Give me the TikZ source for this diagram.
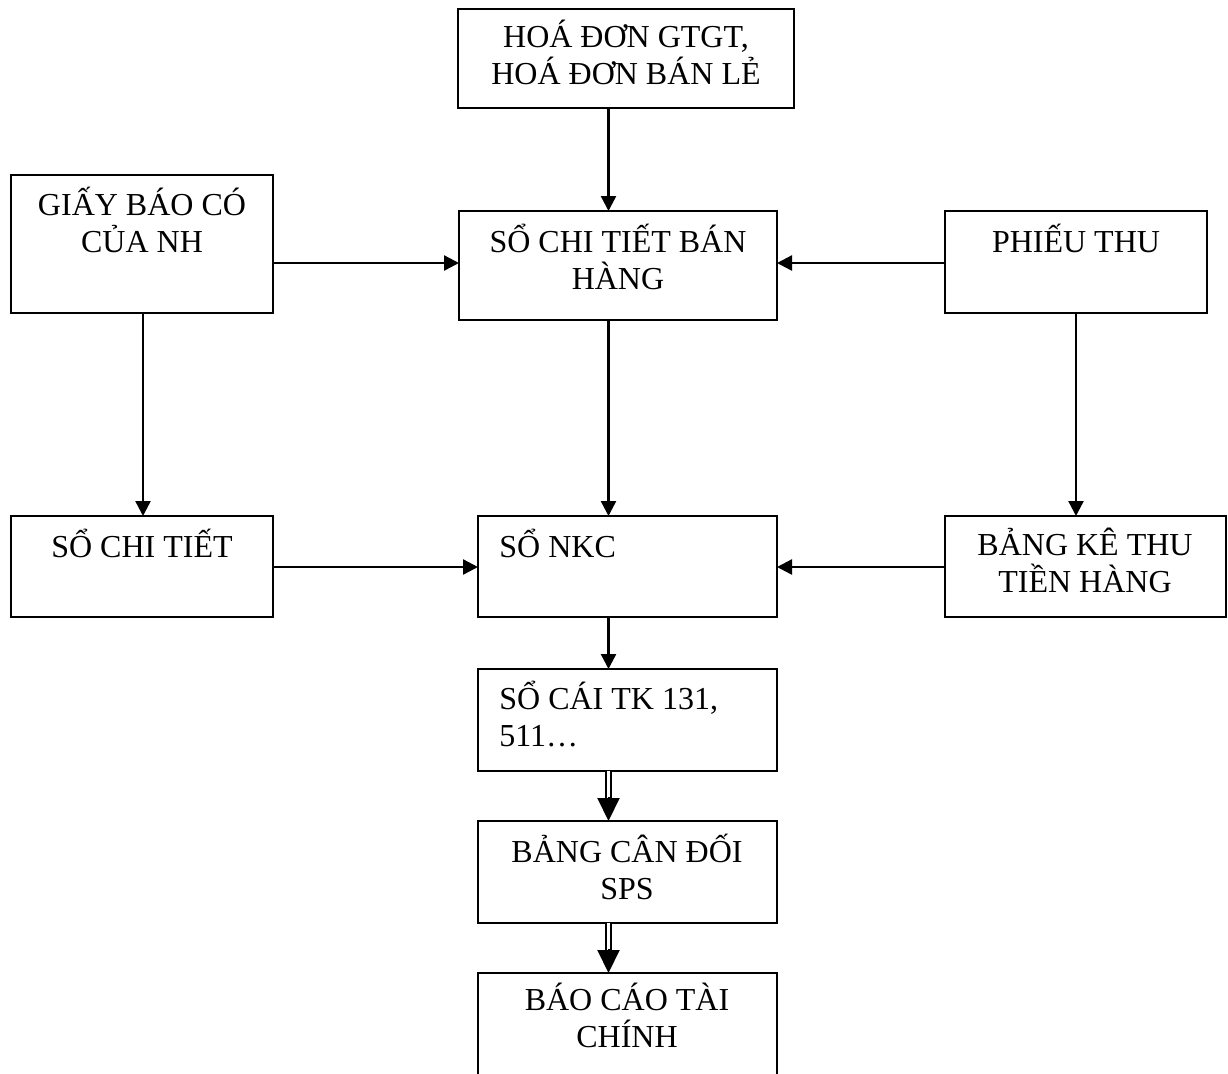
\documentclass[tikz,border=0pt]{standalone}
\usepackage{fontspec}
\setmainfont{Liberation Serif}
\usetikzlibrary{arrows.meta,calc}
% rectangular document box given by its corners (x1,y1) and (x2,y2)
\newcommand\docbox[5]{%
  \node[box, minimum width={(#4-#2)*0.5pt}, minimum height={(#5-#3)*0.5pt}]
    (#1) at ({(#2+#4)/2},{(#3+#5)/2}) {};}
\begin{document}
\begin{tikzpicture}[x=0.5pt,y=-0.5pt,
  box/.style={draw, line width=1.2pt, inner sep=0pt, outer sep=0pt},
  txt/.style={inner sep=0pt, align=center, font=\fontsize{16pt}{18.5pt}\selectfont},
  flow/.style={line width=1.2pt, -{Triangle[length=7.5pt,width=7.5pt]}},
  dbl/.style={double, line width=1pt, double distance=1.6pt},
  dbltip/.style={line width=1pt, -{Triangle[length=11.5pt,width=11pt]}}]
\useasboundingbox (0,0) rectangle (1228,1073);

% boxes
\docbox{hd}{458}{9}{794}{108}
\docbox{gbc}{11}{175}{273}{313}
\docbox{sctbh}{459}{211}{777}{320}
\docbox{pt}{945}{211}{1207}{313}
\docbox{sct}{11}{516}{273}{617}
\docbox{nkc}{478}{516}{777}{617}
\docbox{bk}{945}{516}{1226}{617}
\docbox{sc}{478}{669}{777}{771}
\docbox{bcd}{478}{821}{777}{923}
\docbox{bctc}{478}{973}{777}{1110}

% texts (base anchor sits on the last line's baseline)
\node[txt, anchor=base] (thd) at (626,84) {HOÁ ĐƠN GTGT,\\HOÁ ĐƠN BÁN LẺ};
\node[txt, anchor=base] (tgbc) at (142,252) {GIẤY BÁO CÓ\\CỦA NH};
\node[txt, anchor=base] (tsctbh) at (618,289) {SỔ CHI TIẾT BÁN\\HÀNG};
\node[txt, anchor=base] (tpt) at (1076,252) {PHIẾU THU};
\node[txt, anchor=base] (tsct) at (142,557) {SỔ CHI TIẾT};
\node[txt, anchor=base west, align=left] (tnkc) at (499,557) {SỔ NKC};
\node[txt, anchor=base] (tbk) at (1085,592) {BẢNG KÊ THU\\TIỀN HÀNG};
\node[txt, anchor=base west, align=left] (tsc) at (499,746) {SỔ CÁI TK 131,\\511…};
\node[txt, anchor=base] (tbcd) at (627,899) {BẢNG CÂN ĐỐI\\SPS};
\node[txt, anchor=base] (tbctc) at (627,1047) {BÁO CÁO TÀI\\CHÍNH};

% connector guides
\coordinate (mid) at (608.5,0);
\coordinate (lft) at (143,0);
\coordinate (rgt) at (1076,0);
\coordinate (row1) at (0,263);
\coordinate (row2) at (0,567);

% single arrows
\draw[flow] (hd.south -| mid) -- (sctbh.north -| mid);
\draw[flow] (gbc.east |- row1) -- (sctbh.west |- row1);
\draw[flow] (pt.west |- row1) -- (sctbh.east |- row1);
\draw[flow] (gbc.south -| lft) -- (sct.north -| lft);
\draw[flow] (sctbh.south -| mid) -- (nkc.north -| mid);
\draw[flow] (pt.south -| rgt) -- (bk.north -| rgt);
\draw[flow] (sct.east |- row2) -- (nkc.west |- row2);
\draw[flow] (bk.west |- row2) -- (nkc.east |- row2);
\draw[flow] (nkc.south -| mid) -- (sc.north -| mid);

% double arrows
\coordinate (h1) at ($(bcd.north -| mid)+(0,-24)$);
\draw[dbl] (sc.south -| mid) -- ($(h1)+(0,2)$);
\draw[dbltip] (h1) -- (bcd.north -| mid);
\coordinate (h2) at ($(bctc.north -| mid)+(0,-24)$);
\draw[dbl] (bcd.south -| mid) -- ($(h2)+(0,2)$);
\draw[dbltip] (h2) -- (bctc.north -| mid);
\end{tikzpicture}
\end{document}
